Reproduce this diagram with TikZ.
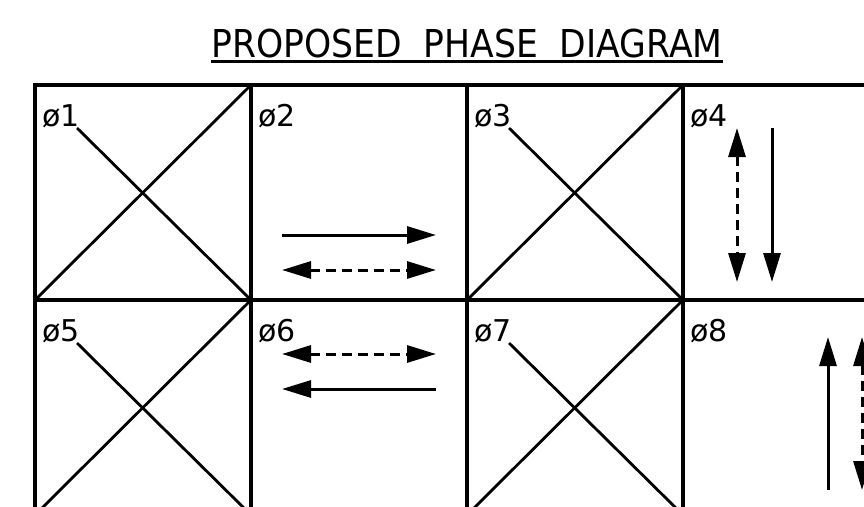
\documentclass[tikz,border=0pt]{standalone}
\usepackage{fontspec}
\setmainfont{DejaVu Sans}
\newfontfamily\titlefont{DejaVu Sans}[FakeStretch=0.9]
\usetikzlibrary{arrows.meta}
\tikzset{
	gridline/.style={line width=3.4pt},
	crossline/.style={line width=2.8pt},
	flow/.style={line width=3pt},
	flowdash/.style={line width=3pt, dash pattern=on 10pt off 6pt},
	phase/.style={anchor=base west, inner sep=0pt, font=\fontsize{30}{32}\selectfont},
}
\begin{document}
\begin{tikzpicture}[>={Triangle[length=29pt 0,width=17pt 0]},x=1pt,y=-1pt]
				\useasboundingbox (0,0) rectangle (864,506);
				\clip (0,0) rectangle (864,506);
				% title
				\node[anchor=base, inner sep=0pt, font=\titlefont\fontsize{38.4}{40}\selectfont] (title) at (467,57) {PROPOSED\ \ PHASE\ \ DIAGRAM};
				\draw[line width=2.8pt] ([yshift=-4.5pt]title.base west) -- ([yshift=-4.5pt]title.base east);
				% grid
				\draw[gridline] (35,85) rectangle (899,515);
				\draw[gridline] (35,300) -- (899,300);
				\foreach \x in {251,467,683} \draw[gridline] (\x,85) -- (\x,515);
				% crossed cells
				\foreach \x in {35,467} \foreach \y in {85,300} {
					\draw[crossline] (\x,\y+215) -- (\x+216,\y);
					\draw[crossline] (\x+42,\y+43) -- (\x+216,\y+215);
				}
				% phase labels
				\foreach \n/\x/\y in {1/35/85, 2/251/85, 3/467/85, 4/683/85, 5/35/300, 6/251/300, 7/467/300, 8/683/300}
					\node[phase] (p\n) at (\x+7,\y+41) {ø\n};
				% movements
				\draw[flow,->] (282,235) -- (436,235);
				\draw[flowdash,<->] (282,270) -- (436,270);
				\draw[flowdash,<->] (282,354) -- (436,354);
				\draw[flow,->] (436,389) -- (282,389);
				\draw[flowdash,<->] (737,128) -- (737,282);
				\draw[flow,->] (772,128) -- (772,282);
				\draw[flow,->] (828,490) -- (828,337);
				\draw[flowdash,<->] (862,337) -- (862,490);
\end{tikzpicture}
\end{document}
